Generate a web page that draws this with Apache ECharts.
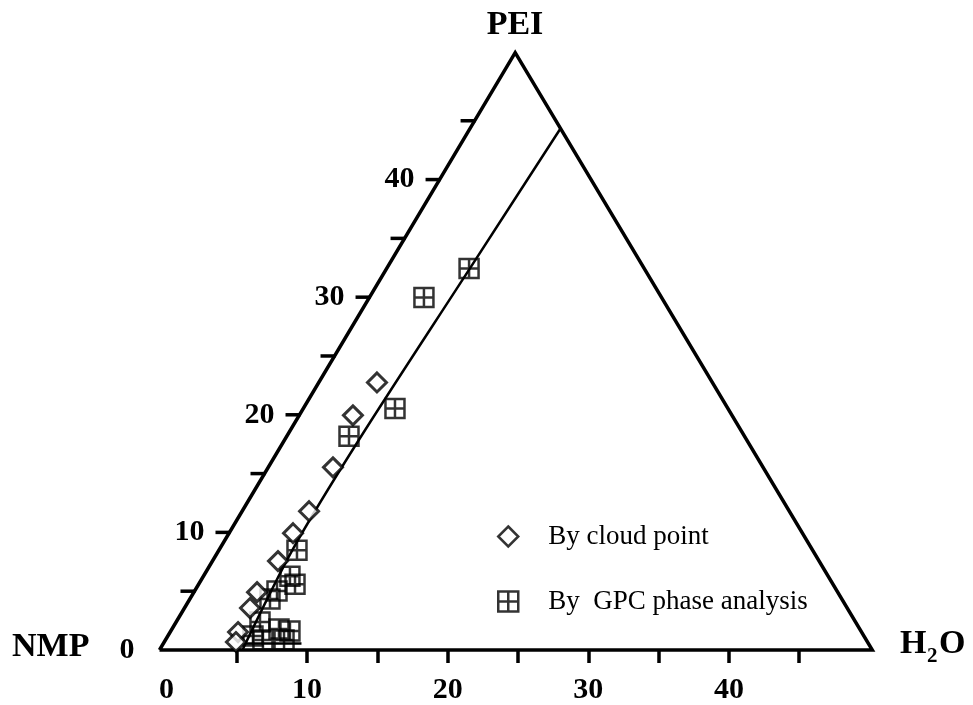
<!DOCTYPE html>
<html>
<head>
<meta charset="utf-8">
<script src="https://cdn.jsdelivr.net/npm/echarts@6/dist/echarts.min.js"></script>
<style>
  html, body { margin: 0; padding: 0; background: #fff; }
  #chart { width: 973px; height: 705px; }
</style>
</head>
<body>
<div id="chart"></div>
<script>
// Phase diagram NMP / PEI / H2O, drawn in (H2O-axis, PEI) coordinates.

// Triangle corners: NMP, PEI, H2O, back to NMP
const triangle = [[-0.5, 0], [24.8, 50.8], [50.2, 0], [-0.5, 0]];

// Fitted phase boundary
const boundary = [[5.4, 0], [9.0, 8.6], [13.7, 17.9], [21.5, 32.3], [28.0, 44.3]];

// Short tie segment near the base
const baseSegment = [[5.6, 0.55], [9.6, 0.55]];

// Bottom axis
const bottomTicks = [5, 10, 15, 20, 25, 30, 35, 40, 45];
const bottomLabels = [0, 10, 20, 30, 40];

// PEI axis (left edge)
const peiTicks = [5, 10, 15, 20, 25, 30, 35, 40, 45];
const peiLabels = [0, 10, 20, 30, 40];

// Measured compositions
const cloudPoint = [
  [14.97, 22.75], [13.26, 19.95], [11.84, 15.53], [10.14, 11.80], [9.00, 9.93],
  [7.93, 7.56], [6.44, 4.92], [5.94, 3.57], [5.09, 1.53], [4.94, 0.68]
];
const gpcPhase = [
  [21.52, 32.43], [18.31, 29.97], [16.25, 20.54], [12.98, 18.17], [9.28, 8.49],
  [8.78, 6.28], [9.14, 5.60], [7.86, 5.01], [7.36, 4.33], [6.65, 2.38],
  [8.00, 1.78], [8.78, 1.61], [6.15, 1.19], [6.86, 0.85], [8.36, 0.85]
];

const SERIF = '"Liberation Serif", "Times New Roman", serif';
const GRID_SYMBOL = 'path://M0,0H20V20H0Z M10,0V20 M0,10H20';

// point on the left (NMP-PEI) edge for a PEI value
function leftEdgeX(p) {
  const a = triangle[0], b = triangle[1];
  return a[0] + (b[0] - a[0]) * (p - a[1]) / (b[1] - a[1]);
}

const chart = echarts.init(document.getElementById('chart'), null, { renderer: 'canvas' });

chart.setOption({
  backgroundColor: '#ffffff',
  animation: false,
  grid: { left: 25.9, right: 33.2, top: 38.44, bottom: 54 },
  xAxis: {
    type: 'value', min: -10, max: 55,
    splitLine: { show: false },
    axisLine: { show: false, onZero: true },
    axisTick: {
      show: true, inside: false, length: 13,
      customValues: bottomTicks,
      lineStyle: { color: '#000', width: 3.5 }
    },
    axisLabel: {
      customValues: bottomLabels,
      margin: 25,
      color: '#000', fontSize: 30, fontWeight: 'bold', fontFamily: SERIF
    }
  },
  yAxis: { type: 'value', min: 0, max: 52, show: false },
  legend: {
    orient: 'vertical',
    left: 497, top: 523, padding: 0,
    itemWidth: 20, itemHeight: 20, itemGap: 38,
    textStyle: { color: '#000', fontSize: 27, fontFamily: SERIF, padding: [0, 0, 0, 25] },
    itemStyle: { borderWidth: 2.5 },
    data: ['By cloud point', 'By  GPC phase analysis']
  },
  graphic: [
    { type: 'text', style: { text: 'PEI', x: 515, y: 25, align: 'center', verticalAlign: 'middle',
      font: 'bold 34px ' + SERIF, fill: '#000' } },
    { type: 'text', style: { text: 'NMP', x: 12, y: 647, align: 'left', verticalAlign: 'middle',
      font: 'bold 34px ' + SERIF, fill: '#000' } },
    { type: 'text', style: { text: 'H', x: 900, y: 644, align: 'left', verticalAlign: 'middle',
      font: 'bold 34px ' + SERIF, fill: '#000' } },
    { type: 'text', style: { text: '2', x: 927, y: 657, align: 'left', verticalAlign: 'middle',
      font: 'bold 21px ' + SERIF, fill: '#000' } },
    { type: 'text', style: { text: 'O', x: 939, y: 644, align: 'left', verticalAlign: 'middle',
      font: 'bold 34px ' + SERIF, fill: '#000' } }
  ],
  series: [
    {
      name: 'triangle', type: 'line', data: triangle, symbol: 'none', clip: false, silent: true,
      lineStyle: { color: '#000', width: 3.5, join: 'miter' }, z: 2
    },
    {
      name: 'boundary', type: 'line', data: boundary, symbol: 'none', clip: false, silent: true,
      smooth: 0.3, lineStyle: { color: '#000', width: 2.5 }, z: 2
    },
    {
      name: 'segment', type: 'line', data: baseSegment, symbol: 'none', clip: false, silent: true,
      lineStyle: { color: '#000', width: 2.5 }, z: 2
    },
    {
      name: 'peiTicks', type: 'custom', silent: true, clip: false, z: 3,
      data: peiTicks.map(p => [leftEdgeX(p), p]),
      renderItem: function (params, api) {
        const pt = api.coord([api.value(0), api.value(1)]);
        return {
          type: 'line',
          shape: { x1: pt[0] - 14, y1: pt[1], x2: pt[0] + 1, y2: pt[1] },
          style: { stroke: '#000', lineWidth: 3.5 }
        };
      }
    },
    {
      name: 'peiLabels', type: 'custom', silent: true, clip: false, z: 3,
      data: peiLabels.map(p => [leftEdgeX(p), p]),
      renderItem: function (params, api) {
        const pt = api.coord([api.value(0), api.value(1)]);
        return {
          type: 'text',
          style: {
            text: String(api.value(1)), x: pt[0] - 25, y: pt[1],
            align: 'right', verticalAlign: 'middle',
            font: 'bold 30px ' + SERIF, fill: '#000'
          }
        };
      }
    },
    {
      name: 'By  GPC phase analysis', type: 'scatter', data: gpcPhase,
      symbol: GRID_SYMBOL, symbolSize: 19, clip: false, z: 4,
      itemStyle: { color: 'rgba(0,0,0,0)', borderColor: '#000', borderWidth: 2.5 }
    },
    {
      name: 'By cloud point', type: 'scatter', data: cloudPoint,
      symbol: 'diamond', symbolSize: 19, clip: false, z: 5,
      itemStyle: { color: '#fff', borderColor: '#000', borderWidth: 3 }
    }
  ]
});
</script>
</body>
</html>
